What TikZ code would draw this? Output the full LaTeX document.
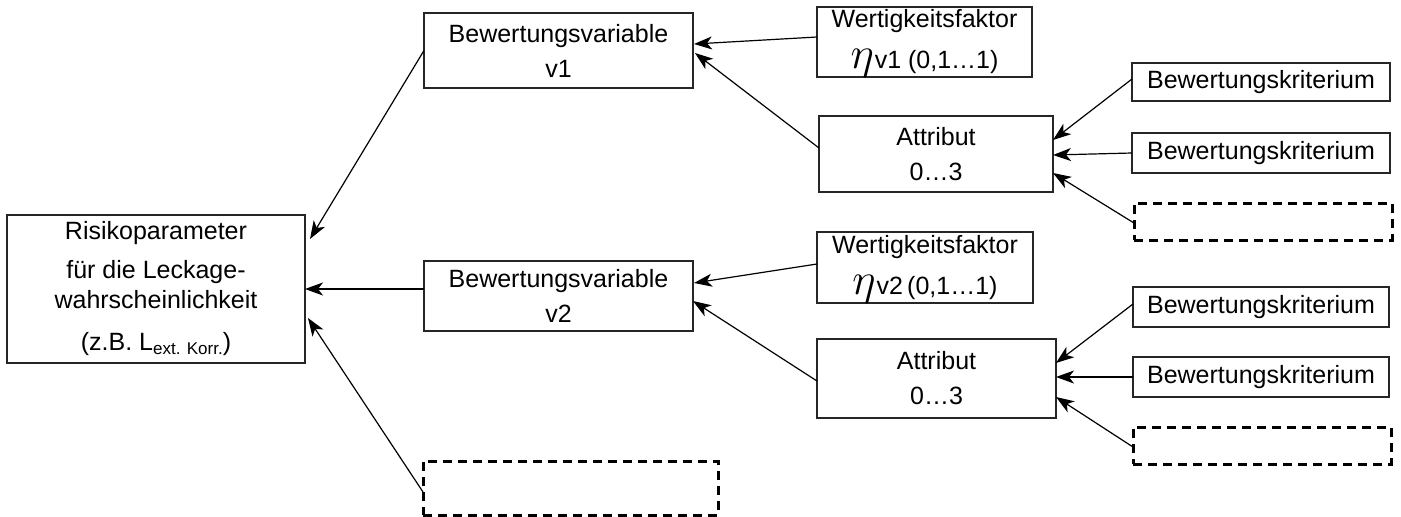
\documentclass[tikz,border=0pt]{standalone}
\usepackage{fontspec}
\usepackage{graphicx}
\setmainfont{Liberation Sans}
\usetikzlibrary{arrows.meta}
% enlarged eta whose descender does not count towards the line depth
\newcommand{\bigeta}{\raisebox{0pt}[\height][0pt]{\scalebox{1.8}{$\eta$}}\kern1pt}
\begin{document}
\begin{tikzpicture}[x=1pt,y=-1pt,
  box/.style={draw=black!85, line width=1.3pt, inner sep=0pt, outer sep=0pt,
    align=center, font=\fontsize{25}{35}\selectfont},
  krit/.style={box, font=\fontsize{25}{30}\selectfont},
  dashbox/.style={draw=black, line width=3pt, dash pattern=on 9pt off 6pt,
    inner sep=0pt, outer sep=0pt},
  link/.style={line width=1.2pt,
    -{Stealth[length=18pt,width=13pt,inset=5pt]}}]
\useasboundingbox (0,0) rectangle (1401,517);

% risk parameter
\node[box, minimum width=298pt, minimum height=148pt,
  font=\fontsize{25}{30}\selectfont] (risk) at (156,289)
  {Risikoparameter\\[9pt]f\"ur die Leckage-\\wahrscheinlichkeit\\[12pt]%
   (z.B. L\raisebox{-4pt}{\fontsize{17}{17}\selectfont ext. Korr.})};

% evaluation variables
\node[box, minimum width=269pt, minimum height=75pt] (v1) at (558.5,50.5)
  {Bewertungsvariable\\v1};
\node[box, minimum width=269pt, minimum height=70pt] (v2) at (558.5,296)
  {Bewertungsvariable\\v2};
\node[dashbox, minimum width=295pt, minimum height=54pt] (d0) at (570.5,488) {};

% weighting factors
\node[box, minimum width=215pt, minimum height=70pt] (w1) at (924.5,42)
  {Wertigkeitsfaktor\\[6pt]\bigeta v1 (0,1…1)};
\node[box, minimum width=216pt, minimum height=71pt] (w2) at (925,267.5)
  {Wertigkeitsfaktor\\[6pt]\bigeta v2\,(0,1…1)};

% attributes
\node[box, minimum width=234pt, minimum height=76pt] (a1) at (936,154)
  {Attribut\\0…3};
\node[box, minimum width=239pt, minimum height=79pt] (a2) at (936.5,378.5)
  {Attribut\\0…3};

% criteria
\node[krit, minimum width=258pt, minimum height=38pt] (k1) at (1261,82) {Bewertungskriterium};
\node[krit, minimum width=258pt, minimum height=40pt] (k2) at (1261,153) {Bewertungskriterium};
\node[dashbox, minimum width=258pt, minimum height=37pt] (d1) at (1263,221.5) {};
\node[krit, minimum width=256pt, minimum height=40pt] (k3) at (1261,307) {Bewertungskriterium};
\node[krit, minimum width=256pt, minimum height=40pt] (k4) at (1261,377) {Bewertungskriterium};
\node[dashbox, minimum width=258pt, minimum height=37pt] (d2) at (1262,445.5) {};

% connectors
\draw[link] (v1.west) -- ([xshift=5pt,yshift=50pt]risk.east);
\draw[link] ([yshift=7pt]v2.west) -- (risk.east);
\draw[link] ([yshift=-4pt]d0.west) -- ([xshift=3pt,yshift=-29pt]risk.east);

\draw[link] ([yshift=5pt]w1.west) -- ([xshift=1pt,yshift=6.5pt]v1.east);
\draw[link] ([yshift=6pt]a1.west) -- ([xshift=2pt,yshift=-2.5pt]v1.east);
\draw[link] ([yshift=3.5pt]w2.west) -- ([xshift=1pt,yshift=13pt]v2.east);
\draw[link] ([yshift=-2.5pt]a2.west) -- ([yshift=-5pt]v2.east);

\draw[link] ([yshift=3pt]k1.west) -- ([yshift=14pt]a1.east);
\draw[link] (k2.west) -- ([yshift=-1pt]a1.east);
\draw[link] ([yshift=-1.5pt]d1.west) -- ([yshift=-19pt]a1.east);

\draw[link] ([yshift=3pt]k3.west) -- ([yshift=15.5pt]a2.east);
\draw[link] (k4.west) -- ([yshift=1.5pt]a2.east);
\draw[link] ([yshift=-1.5pt]d2.west) -- ([yshift=-18.5pt]a2.east);
\end{tikzpicture}
\end{document}
